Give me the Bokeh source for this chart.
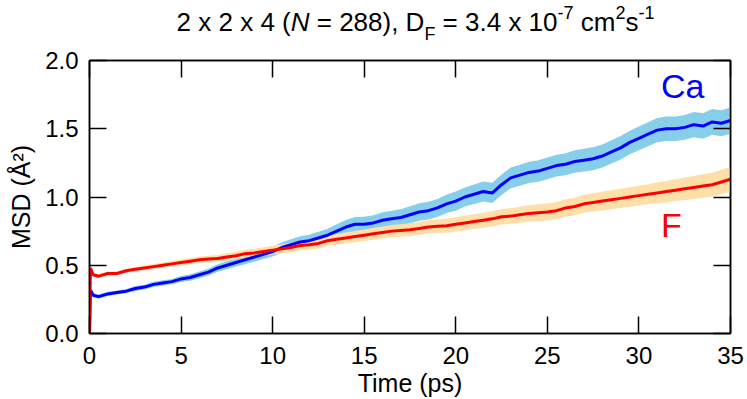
from bokeh.plotting import figure
from bokeh.layouts import column
from bokeh.models import (Range1d, LinearAxis, FixedTicker, NumeralTickFormatter,
                          Label, ColumnDataSource)
from bokeh.embed import file_html
from bokeh.resources import INLINE

# ---------------- data ----------------
time_ps = [0.0, 0.05, 0.2,
           0.5, 1.0, 1.5, 2.0,
           2.5, 3.0, 3.5, 4.0, 4.5, 5.0,
           5.5, 6.0, 6.5, 7.0, 7.5, 8.0, 8.5, 9.0, 9.5, 10.0,
           10.5, 11.0, 11.5, 12.0, 12.5, 13.0, 13.5, 14.0, 14.5, 15.0,
           15.5, 16.0, 16.5, 17.0, 17.5, 18.0, 18.5, 19.0, 19.5, 20.0,
           20.5, 21.0, 21.5, 22.0, 22.5, 23.0, 23.5, 24.0, 24.5, 25.0,
           25.5, 26.0, 26.5, 27.0, 27.5, 28.0, 28.5, 29.0, 29.5, 30.0,
           30.5, 31.0, 31.5, 32.0, 32.5, 33.0, 33.5, 34.0, 34.5, 35.0]

ca_msd = [0.0, 0.32, 0.28,
          0.27, 0.29, 0.30, 0.31,
          0.33, 0.34, 0.36, 0.37, 0.38, 0.40,
          0.41, 0.43, 0.45, 0.48, 0.50, 0.52, 0.54, 0.56, 0.58, 0.60,
          0.63, 0.65, 0.67, 0.68, 0.70, 0.72, 0.75, 0.78, 0.80, 0.80,
          0.81, 0.83, 0.84, 0.85, 0.87, 0.89, 0.90, 0.92, 0.95, 0.97,
          1.00, 1.02, 1.04, 1.03, 1.09, 1.14, 1.16, 1.18, 1.19, 1.21,
          1.23, 1.24, 1.26, 1.27, 1.28, 1.30, 1.33, 1.36, 1.40, 1.43,
          1.46, 1.49, 1.50, 1.50, 1.51, 1.53, 1.52, 1.55, 1.54, 1.56]

ca_sd = [0.0, 0.01, 0.015,
         0.015, 0.015, 0.015, 0.015,
         0.018, 0.018, 0.02, 0.02, 0.02, 0.022,
         0.024, 0.025, 0.026, 0.028, 0.03, 0.03, 0.032, 0.034, 0.035, 0.036,
         0.038, 0.04, 0.042, 0.044, 0.046, 0.048, 0.05, 0.052, 0.054, 0.055,
         0.056, 0.058, 0.06, 0.06, 0.062, 0.064, 0.065, 0.066, 0.068, 0.07,
         0.07, 0.072, 0.073, 0.074, 0.075, 0.076, 0.077, 0.078, 0.079, 0.08,
         0.08, 0.081, 0.082, 0.083, 0.084, 0.084, 0.085, 0.086, 0.086, 0.087,
         0.088, 0.089, 0.09, 0.09, 0.091, 0.092, 0.093, 0.094, 0.095, 0.096]

f_msd = [0.0, 0.48, 0.43,
         0.42, 0.44, 0.44, 0.46,
         0.47, 0.48, 0.49, 0.50, 0.51, 0.52,
         0.53, 0.54, 0.545, 0.55, 0.56, 0.57, 0.585, 0.59, 0.60, 0.61,
         0.62, 0.63, 0.645, 0.65, 0.66, 0.68, 0.69, 0.70, 0.71, 0.72,
         0.73, 0.74, 0.75, 0.755, 0.76, 0.77, 0.78, 0.785, 0.79, 0.80,
         0.81, 0.82, 0.83, 0.84, 0.855, 0.86, 0.87, 0.88, 0.885, 0.89,
         0.90, 0.92, 0.93, 0.95, 0.96, 0.97, 0.98, 0.99, 1.00, 1.01,
         1.02, 1.03, 1.04, 1.05, 1.06, 1.07, 1.08, 1.09, 1.11, 1.13]

f_sd = [0.0, 0.01, 0.015,
        0.015, 0.015, 0.015, 0.015,
        0.017, 0.018, 0.019, 0.02, 0.021, 0.022,
        0.023, 0.024, 0.025, 0.026, 0.027, 0.028, 0.029, 0.03, 0.031, 0.032,
        0.033, 0.034, 0.035, 0.036, 0.037, 0.038, 0.039, 0.04, 0.041, 0.042,
        0.043, 0.044, 0.045, 0.046, 0.047, 0.048, 0.049, 0.05, 0.051, 0.052,
        0.053, 0.054, 0.055, 0.056, 0.057, 0.058, 0.059, 0.06, 0.061, 0.062,
        0.063, 0.064, 0.065, 0.066, 0.067, 0.068, 0.069, 0.07, 0.071, 0.072,
        0.074, 0.076, 0.078, 0.08, 0.082, 0.084, 0.086, 0.088, 0.09, 0.092]

x_ticks = [0, 5, 10, 15, 20, 25, 30, 35]
y_ticks = [0.0, 0.5, 1.0, 1.5, 2.0]

FONT = "Liberation Sans"
PAGE_W, PAGE_H = 747, 399
TITLE_H = 44
BORDER_L, BORDER_R = 89, 17
FRAME_TOP_PAGE, FRAME_BOTTOM_PAGE = 60, 333
BASE_SHIFT = 0.4   # empirical: rendered baseline sits this fraction of the font size lower

# ---------------- title strip (separate figure, page-pixel coordinates) ----------------
tf = figure(width=PAGE_W, height=TITLE_H,
            x_range=Range1d(BORDER_L, PAGE_W - BORDER_R), y_range=Range1d(0, TITLE_H),
            output_backend="svg", toolbar_location=None, x_axis_type=None, y_axis_type=None,
            min_border_left=BORDER_L, min_border_right=BORDER_R, min_border_top=0, min_border_bottom=0)
tf.grid.visible = False
tf.outline_line_color = None
tf.background_fill_color = "white"
tf.border_fill_color = "white"

WID = {'2': 556, ' ': 278, 'x': 500, '4': 556, '(': 333, 'N': 722, '=': 584, '8': 556,
       ')': 333, ',': 278, 'D': 722, 'F': 611, '3': 556, '.': 278, '1': 556, '0': 556,
       'c': 500, 'm': 833, 's': 500, '-': 333, '7': 556}
MAIN, SMALL = 26, 18
pieces = [("2 x 2 x 4 (", "main", "normal"), ("N", "main", "italic"),
          (" = 288), D", "main", "normal"), ("F", "sub", "normal"),
          (" = 3.4 x 10", "main", "normal"), ("-7", "sup", "normal"),
          (" cm", "main", "normal"), ("2", "sup", "normal"),
          ("s", "main", "normal"), ("-1", "sup", "normal")]

def width_of(s, kind):
    size = MAIN if kind == "main" else SMALL
    return sum(WID[c] for c in s) * size / 1000.0

total = sum(width_of(s, k) for s, k, _ in pieces)
x_cur = 415 - total / 2
base_page = 32
for s, kind, style in pieces:
    if kind == "main":
        yb, size = base_page, MAIN
    elif kind == "sup":
        yb, size = base_page - 13, SMALL
    else:
        yb, size = base_page + 9, SMALL
    y_spec = yb - BASE_SHIFT * size
    stripped = s.lstrip(" ")
    lead = s[:len(s) - len(stripped)]
    x_draw = x_cur + width_of(lead, kind)
    tf.add_layout(Label(x=x_draw, y=TITLE_H - y_spec, text=stripped.rstrip(" "), text_font=FONT,
                        text_font_size=f"{size}px", text_font_style=style,
                        text_color="black", text_align="left", text_baseline="alphabetic"))
    x_cur += width_of(s, kind)

# ---------------- main plot ----------------
p = figure(width=PAGE_W, height=PAGE_H - TITLE_H, x_range=Range1d(0, 35), y_range=Range1d(0, 2),
           output_backend="svg", toolbar_location=None,
           min_border_left=BORDER_L, min_border_right=BORDER_R,
           min_border_top=FRAME_TOP_PAGE - TITLE_H, min_border_bottom=PAGE_H - FRAME_BOTTOM_PAGE)
p.grid.visible = False
p.outline_line_color = "black"
p.outline_line_width = 1.5
p.background_fill_color = "white"
p.border_fill_color = "white"

src = ColumnDataSource(dict(
    t=time_ps,
    ca=ca_msd, ca_lo=[m - s for m, s in zip(ca_msd, ca_sd)], ca_hi=[m + s for m, s in zip(ca_msd, ca_sd)],
    f=f_msd, f_lo=[m - s for m, s in zip(f_msd, f_sd)], f_hi=[m + s for m, s in zip(f_msd, f_sd)],
))

p.varea(x="t", y1="ca_lo", y2="ca_hi", source=src, fill_color="#87CEEB", fill_alpha=1.0)
p.varea(x="t", y1="f_lo", y2="f_hi", source=src, fill_color="#FFDFA8", fill_alpha=1.0)
p.line(x="t", y="ca", source=src, line_color="#0000FF", line_width=3)
p.line(x="t", y="f", source=src, line_color="#FF0000", line_width=3)

def style_axis(ax, ticks, labels=True):
    ax.axis_line_color = "black"
    ax.axis_line_width = 1.5
    ax.major_tick_line_color = "black"
    ax.major_tick_line_width = 1.5
    ax.major_tick_in = 17
    ax.major_tick_out = 0
    ax.minor_tick_line_color = None
    ax.major_label_text_font = FONT
    ax.major_label_text_color = "black"
    ax.major_label_text_font_size = "24px"
    if not labels:
        ax.major_label_overrides = {t: "" for t in ticks}
        ax.major_label_text_font_size = "0px"
        ax.major_label_standoff = 0

xa = p.xaxis[0]
xa.ticker = FixedTicker(ticks=x_ticks)
style_axis(xa, x_ticks)
xa.major_label_standoff = 13
xa.axis_label = "Time (ps)"
xa.axis_label_text_font = FONT
xa.axis_label_text_font_size = "25px"
xa.axis_label_text_font_style = "normal"
xa.axis_label_text_color = "black"
xa.axis_label_standoff = 2

ya = p.yaxis[0]
ya.ticker = FixedTicker(ticks=y_ticks)
ya.formatter = NumeralTickFormatter(format="0.0")
style_axis(ya, y_ticks)
ya.major_label_standoff = 11
ya.axis_label = "MSD (Å²)"
ya.axis_label_text_font = FONT
ya.axis_label_text_font_size = "25px"
ya.axis_label_text_font_style = "normal"
ya.axis_label_text_color = "black"
ya.axis_label_standoff = 7

top_ax = LinearAxis(ticker=FixedTicker(ticks=x_ticks))
style_axis(top_ax, x_ticks, labels=False)
p.add_layout(top_ax, "above")
right_ax = LinearAxis(ticker=FixedTicker(ticks=y_ticks))
style_axis(right_ax, y_ticks, labels=False)
p.add_layout(right_ax, "right")

# series labels (baselines, page px)
px_per_unit = (FRAME_BOTTOM_PAGE - FRAME_TOP_PAGE) / 2.0
LAB = 34
for txt, col, base_px in [("Ca", "#0000FF", 99), ("F", "#FF0000", 238)]:
    y_spec_px = base_px - BASE_SHIFT * LAB
    p.add_layout(Label(x=31.2, y=(FRAME_BOTTOM_PAGE - y_spec_px) / px_per_unit, text=txt,
                       text_color=col, text_font=FONT, text_font_size=f"{LAB}px",
                       text_baseline="alphabetic"))

layout = column(tf, p, spacing=0)
open("out.html", "w").write(file_html(layout, INLINE))
